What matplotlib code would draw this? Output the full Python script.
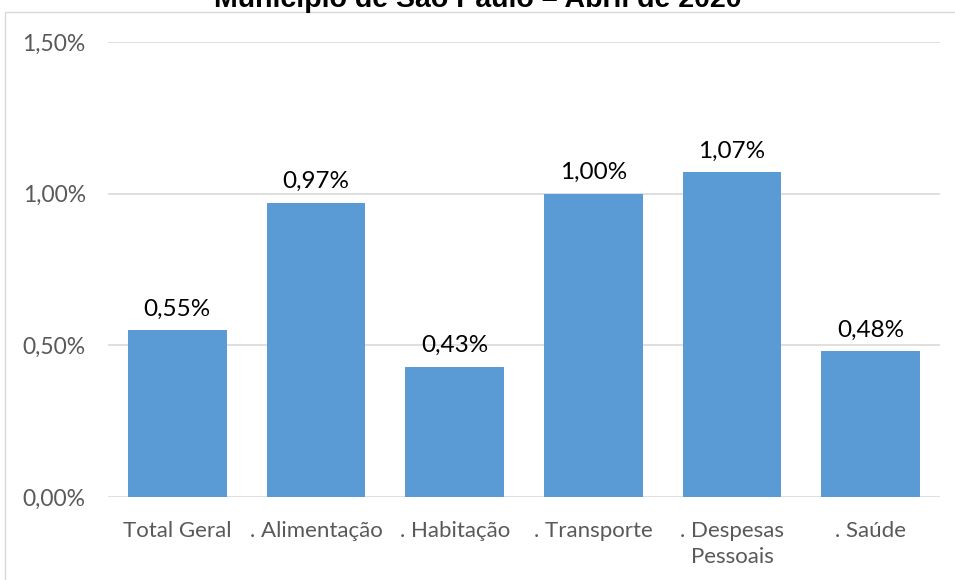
import matplotlib
matplotlib.use("Agg")
import matplotlib.pyplot as plt
from matplotlib.patches import Rectangle

categories = ["Total Geral", ". Alimentação", ". Habitação", ". Transporte", ". Despesas\nPessoais", ". Saúde"]
values = [0.55, 0.97, 0.43, 1.00, 1.07, 0.48]
labels = ["0,55%", "0,97%", "0,43%", "1,00%", "1,07%", "0,48%"]
yticks = [0.0, 0.5, 1.0, 1.5]
yticklabels = ["0,00%", "0,50%", "1,00%", "1,50%"]
title = "Município de São Paulo – Abril de 2020"

W, H = 955, 580
fig = plt.figure(figsize=(W/100, H/100), dpi=100)
fig.patch.set_facecolor("white")

# chart border
fig.patches.append(Rectangle((5/W, -0.1), 1.2, 1 - 12/H + 0.1, transform=fig.transFigure,
                             fill=False, edgecolor="#D9D9D9", linewidth=1))

ax = fig.add_axes([108/W, 1 - 497/H, (940-108)/W, (497-42)/H])
x = list(range(len(categories)))
ax.bar(x, values, width=0.71, color="#5B9BD5", zorder=3)
for xi, v, lab in zip(x, values, labels):
    ax.text(xi, v + 0.035, lab, ha="center", va="bottom", fontsize=17.5, family="Lato", color="black")

ax.set_xlim(-0.5, len(categories) - 0.5)
ax.set_ylim(0, 1.5)
ax.set_yticks(yticks)
ax.set_yticklabels(yticklabels, family="Lato", fontsize=16.5, color="#595959")
ax.set_xticks(x)
ax.set_xticklabels(categories, family="Lato", fontsize=16, color="#595959", linespacing=1.4)
ax.tick_params(axis="y", length=0, pad=16)
ax.tick_params(axis="x", length=0, pad=17)
ax.grid(axis="y", color="#D9D9D9", linewidth=1.2, zorder=0)
for s in ax.spines.values():
    s.set_visible(False)

fig.text(0.5, 1 - 7/H, title, ha="center", va="baseline", fontsize=20.5, fontweight="bold",
         family="Liberation Sans", color="black")

fig.savefig("out.png", dpi=100)
